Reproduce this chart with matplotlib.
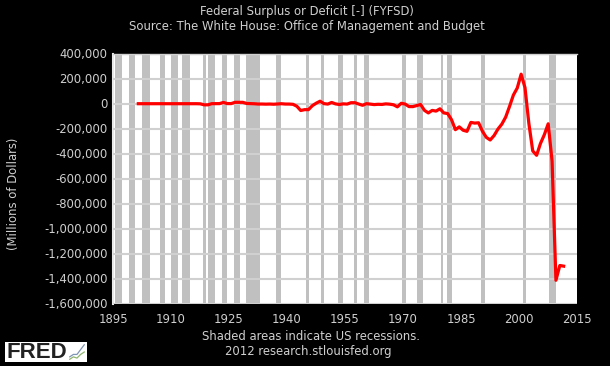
import numpy as np
import matplotlib
matplotlib.use("Agg")
import matplotlib.pyplot as plt
from matplotlib.patches import Rectangle
from matplotlib.transforms import ScaledTranslation

# =========================
# DATA
# =========================
years = list(range(1901, 2012))
deficit = [
    63, 77, 45, -43, -23, 25, 87, -57, -89, -18,
    11, 3, 0, 0, -63, 48, -853, -9000, -9000, 291,
    509, 736, 10000, 963, 717, 11000, 11000, 11000, 2000, 738,
    -462, -2735, -2602, -3586, -2803, -4304, -2193, -89, -2846, -2920,
    -4941, -20503, -54554, -47557, -47553, -15936, 4018, 20000, 580, -3119,
    10000, -1519, -6493, -1154, -2993, 8000, 8000, -2769, -12849, 301,
    -3335, -7146, -4756, -5915, -1411, -3698, -8643, -25161, 3242, -2842,
    -23033, -23373, -14908, -6135, -53242, -73732, -53659, -59185, -40726, -73830,
    -78968, -127977, -207802, -185367, -212308, -221227, -149730, -155178, -152639, -221036,
    -269238, -290321, -255051, -203186, -163952, -107431, -21884, 69270, 125610, 236241,
    128236, -157758, -377585, -412727, -318346, -248181, -160701, -458553, -1412688, -1294373,
    -1299595,
]

recessions = [
    (1895.6, 1897.3), (1899.15, 1900.8), (1902.4, 1904.55), (1907.15, 1908.35),
    (1909.9, 1911.8), (1912.85, 1914.85), (1918.35, 1919.05), (1919.55, 1921.4),
    (1923.1, 1924.4), (1926.35, 1927.85), (1929.4, 1933.1), (1937.15, 1938.35),
    (1944.9, 1945.7), (1948.7, 1949.65), (1953.2, 1954.4), (1957.4, 1958.2),
    (1959.9, 1961.2), (1969.75, 1970.85), (1973.7, 1975.1), (1979.75, 1980.4),
    (1981.3, 1982.6), (1990.25, 1991.2), (2000.95, 2001.7), (2007.75, 2009.5),
]

x_ticks = [1895, 1910, 1925, 1940, 1955, 1970, 1985, 2000, 2015]
y_ticks = [400000, 200000, 0, -200000, -400000, -600000, -800000, -1000000,
           -1200000, -1400000, -1600000]

text_color = "#cfcfcf"
font_size = 8.4

# =========================
# PLOT
# =========================
plt.rcParams["font.family"] = "DejaVu Sans"

fig = plt.figure(figsize=(6.10, 3.66), dpi=100, facecolor="black")
ax = fig.add_axes([113 / 610, 1 - 303.7 / 366, 464 / 610, 250 / 366], facecolor="white")

for start, end in recessions:
    ax.axvspan(start, end, color="#c0c0c0", lw=0, zorder=1)

ax.grid(axis="y", color="#d0d0d0", lw=1.5, zorder=2)
ax.set_axisbelow(False)

# annual values are drawn a little past the start of the year on the source chart
ax.plot(np.array(years) + 0.55, deficit, color="#ff0000", lw=2.3, zorder=3,
        solid_joinstyle="round")

ax.set_xlim(1895, 2015)
ax.set_ylim(-1600000, 400000)
ax.set_xticks(x_ticks)
ax.set_yticks(y_ticks)
ax.set_yticklabels([f"{v:,}" for v in y_ticks])
ax.tick_params(length=0, colors=text_color, labelsize=font_size)
ax.tick_params(axis="x", pad=7)
ax.tick_params(axis="y", pad=4)

# y labels sit slightly above their grid lines
up = ScaledTranslation(0, 0.8 / 72, fig.dpi_scale_trans)
for label in ax.get_yticklabels():
    label.set_transform(label.get_transform() + up)

for side in ["right", "bottom"]:
    ax.spines[side].set_visible(False)
ax.spines["left"].set_color("#e8e8e8")
ax.spines["left"].set_linewidth(1.5)
ax.spines["top"].set_color("#d0d0d0")
ax.spines["top"].set_linewidth(1)

fig.text(14 / 610, 1 - 194 / 366, "(Millions of Dollars)", color=text_color,
         fontsize=font_size, rotation=90, ha="center", va="center")
fig.text(307 / 610, 1 - 11.5 / 366, "Federal Surplus or Deficit [-] (FYFSD)", color=text_color,
         fontsize=font_size, ha="center", va="center")
fig.text(307 / 610, 1 - 26.5 / 366, "Source: The White House: Office of Management and Budget",
         color=text_color, fontsize=font_size, ha="center", va="center")
fig.text(311 / 610, 1 - 336.5 / 366, "Shaded areas indicate US recessions.", color=text_color,
         fontsize=font_size, ha="center", va="center")
fig.text(308 / 610, 1 - 352 / 366, "2012 research.stlouisfed.org", color=text_color,
         fontsize=font_size, ha="center", va="center")

# FRED logo
fig.add_artist(Rectangle((5 / 610, 1 - 362 / 366), 82 / 610, 20 / 366,
                         transform=fig.transFigure, color="white", lw=0))
fig.text(7 / 610, 1 - 352.5 / 366, "FRED", color="#222222", fontsize=16,
         fontweight="bold", family="Liberation Sans", ha="left", va="center")
logo = fig.add_axes([69 / 610, 1 - 360 / 366, 16 / 610, 16 / 366], zorder=5)
logo.axis("off")
logo.plot([0, 1, 2, 3, 4], [2, 3, 3, 5, 7], color="#7f95b5", lw=0.9)
logo.plot([0, 1, 2, 3, 4], [1, 2, 1.5, 3, 4], color="#8fb56f", lw=0.9)

plt.savefig("out.png", dpi=100, facecolor="black")
